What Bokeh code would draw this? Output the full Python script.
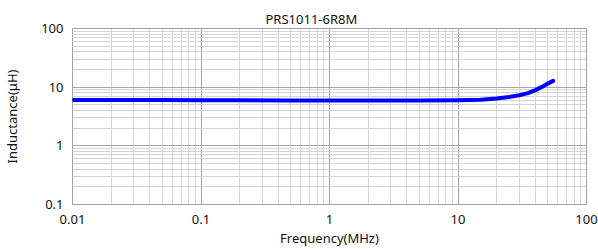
from bokeh.plotting import figure
from bokeh.models import FixedTicker
from bokeh.embed import file_html
from bokeh.resources import INLINE

# ---- data ----
freq_mhz = [0.01, 0.02, 0.05, 0.1, 0.2, 0.5, 1, 2, 5, 10, 15, 20, 25, 30, 35, 40, 45, 50, 55]
inductance_uh = [6.05, 6.04, 6.02, 6.0, 5.98, 5.95, 5.92, 5.92, 5.93, 5.97, 6.1, 6.4, 6.8, 7.3, 7.9, 8.9, 10.1, 11.5, 12.8]

x_ticks = [0.01, 0.1, 1, 10, 100]
x_tick_labels = ["0.01", "0.1", "1", "10", "100"]
y_ticks = [0.1, 1, 10, 100]
y_tick_labels = ["0.1", "1", "10", "100"]

title_text = "PRS1011-6R8M"
x_label = "Frequency(MHz)"
y_label = "Inductance(\u03bcH)"

FONT = "Noto Sans"

def minors(lo_exp, hi_exp):
    return [k * 10.0 ** e for e in range(lo_exp, hi_exp) for k in range(2, 10)]

p = figure(width=598, height=249, x_axis_type="log", y_axis_type="log",
           x_range=(0.01, 100), y_range=(0.1, 100),
           output_backend="svg", toolbar_location=None,
           min_border_left=72, min_border_right=12, min_border_top=28, min_border_bottom=42)

p.title.text = title_text
p.title.align = "left"
p.title.offset = 193
p.title.text_font = FONT
p.title.text_font_size = "13px"
p.title.text_font_style = "normal"
p.title.text_color = "#111111"
p.title.standoff = 2

p.outline_line_color = "#a0a0a0"
p.outline_line_width = 1

p.xaxis.ticker = FixedTicker(ticks=x_ticks, minor_ticks=minors(-2, 2))
p.yaxis.ticker = FixedTicker(ticks=y_ticks, minor_ticks=minors(-1, 2))
p.xaxis.major_label_overrides = {t: l for t, l in zip(x_ticks, x_tick_labels)}
p.yaxis.major_label_overrides = {t: l for t, l in zip(y_ticks, y_tick_labels)}

for ax in (p.xaxis, p.yaxis):
    ax.axis_line_color = None
    ax.major_tick_line_color = None
    ax.minor_tick_line_color = None
    ax.major_tick_out = 0
    ax.major_tick_in = 0
    ax.minor_tick_out = 0
    ax.minor_tick_in = 0
    ax.major_label_text_font = FONT
    ax.major_label_text_font_size = "13px"
    ax.major_label_text_color = "#111111"
    ax.axis_label_text_font = FONT
    ax.axis_label_text_font_size = "13px"
    ax.axis_label_text_font_style = "normal"
    ax.axis_label_text_color = "#111111"

p.xaxis.major_label_standoff = 10
p.yaxis.major_label_standoff = 9

p.yaxis.axis_label = y_label
p.yaxis.axis_label_standoff = 17

p.xaxis.axis_label = x_label
p.xaxis.axis_label_standoff = 2

for g in (p.xgrid, p.ygrid):
    g.grid_line_color = "#a6a6a6"
    g.grid_line_width = 1
    g.minor_grid_line_color = "#d4d4d4"
    g.minor_grid_line_width = 1

p.line(freq_mhz, inductance_uh, line_color="#0000ff", line_width=4, line_cap="round", line_join="round")

open("out.html", "w").write(file_html(p, INLINE))
